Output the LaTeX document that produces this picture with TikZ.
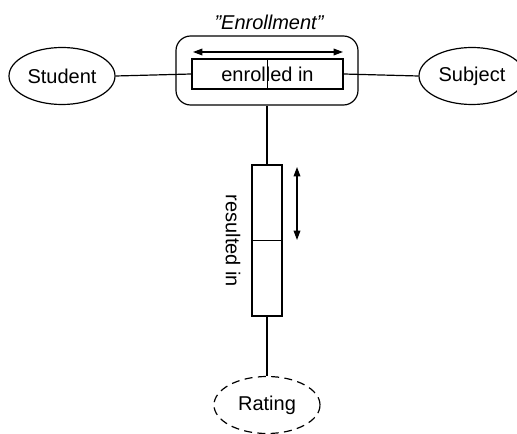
\documentclass[tikz,border=0pt]{standalone}
\usepackage{fontspec}
\setmainfont{Liberation Sans}
\usetikzlibrary{shapes.geometric,arrows.meta}
\def\u{0.75pt}
\tikzset{
  every node/.style={font=\fontsize{15}{18}\selectfont, inner sep=0pt},
  line/.style={line width=0.9pt, black},
  entity/.style={ellipse, draw, line width=0.9pt, minimum width={106*\u}, minimum height={57*\u}},
  relbox/.style={rectangle, draw, line width=0.9pt},
  dbl/.style={line width=0.9pt, {Triangle[length=7pt,width=5pt]}-{Triangle[length=7pt,width=5pt]}},
}
\begin{document}
\begin{tikzpicture}[x=0.75pt,y=-0.75pt]
\useasboundingbox (0,0) rectangle (517,434);
\node[entity] (stu) at (62,76) {Student};
\node[entity] (sub) at (472,76) {Subject};
\node[relbox, rounded corners=11pt, minimum width={182*\u}, minimum height={69*\u}] (agg) at (267,70.5) {};
\node[relbox, minimum width={151*\u}, minimum height={30*\u}] (rel) at (267.5,74) {enrolled in};
\node[font=\fontsize{15}{18}\selectfont\itshape] (lab) at (269,22) {\symbol{34}Enrollment\symbol{34}};
\node[relbox, minimum width={30*\u}, minimum height={151*\u}] (res) at (267,240.5) {};
\node[rotate=-90] (restxt) at (233,241) {resulted in};
\node[entity, dashed, dash pattern=on 6pt off 4pt] (rat) at (267,405) {Rating};
\coordinate (a1) at (193,52);
\coordinate (a2) at (343,52);
\coordinate (b1) at (297,167);
\coordinate (b2) at (297,240);
\draw[line] (stu.east) -- (rel.west);
\draw[line] (rel.east) -- (sub.west);
\draw[line] (rel.north) -- (rel.south);
\draw[line] (agg.south) -- (res.north);
\draw[line, line width=1.3pt] (res.west) -- (res.east);
\draw[line] (res.south) -- (rat.north);
\draw[dbl] (a1) -- (a2);
\draw[dbl] (b1) -- (b2);
\end{tikzpicture}
\end{document}
